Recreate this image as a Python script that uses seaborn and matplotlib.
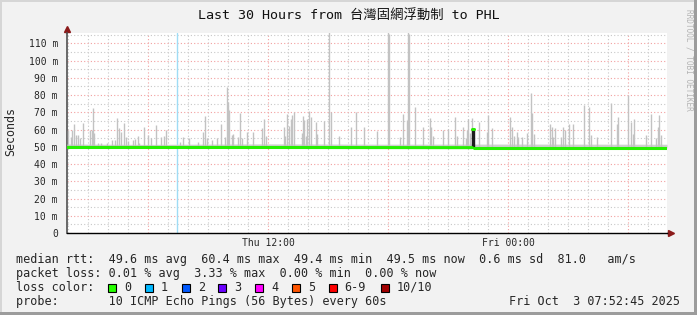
import matplotlib
matplotlib.use("Agg")
import matplotlib.pyplot as plt
import seaborn as sns
import pandas as pd
from matplotlib.patches import Rectangle

# ---------------- data (time in hours since Thu 00:00) ----------------
t_start, t_end = 1.95, 31.95

spike_t = [2.02, 2.14, 2.22, 2.30, 2.39, 2.52, 2.60, 2.77, 3.12, 3.19, 3.27, 3.32,
           3.52, 3.65, 3.94, 4.19, 4.35, 4.47, 4.55, 4.65, 4.80, 4.89, 5.02, 5.27,
           5.35, 5.49, 5.55, 5.80, 5.99, 6.15, 6.39, 6.65, 6.80, 6.90,
           7.60, 7.77, 8.05, 8.50, 8.77, 8.85, 8.94, 9.19, 9.44, 9.64, 9.85, 9.97,
           10.02, 10.07, 10.19, 10.27, 10.49, 10.60, 10.72, 10.94, 11.27, 11.72,
           11.80, 11.90, 12.80, 12.85, 12.97, 13.05, 13.14, 13.19, 13.32, 13.69,
           13.74, 13.82, 13.90, 13.97, 14.07, 14.15, 14.39, 14.47, 14.80, 15.04,
           15.15, 15.55, 16.15, 16.40, 16.82, 17.44, 18.02, 18.07, 18.60, 18.77,
           18.97, 19.02, 19.07, 19.35, 19.77, 20.10, 20.15, 20.27, 20.77, 21.02,
           21.35, 21.47, 21.77, 21.89, 21.94, 22.02, 22.10, 22.19, 22.55, 22.97,
           23.02, 23.22, 24.10, 24.22, 24.30, 24.44, 24.52, 24.72, 24.94, 25.15,
           25.22, 25.30, 26.10, 26.19, 26.27, 26.35, 26.64, 26.74, 26.85, 27.05,
           27.24, 27.80, 28.07, 28.14, 28.47, 29.14, 29.44, 29.52, 30.02, 30.15,
           30.24, 30.32, 30.90, 31.15, 31.40, 31.49, 31.57, 31.64]
spike_top = [59.7, 55.8, 60.0, 63.0, 57.0, 57.0, 55.0, 63.6, 60.0, 60.0, 72.3, 58.0,
             52.0, 52.0, 52.0, 54.0, 54.0, 66.5, 61.0, 58.7, 63.6, 55.8, 53.5, 54.0,
             54.5, 56.0, 52.0, 61.3, 56.8, 54.9, 62.6, 55.4, 56.0, 59.7,
             53.0, 55.8, 55.2, 53.0, 58.7, 67.9, 55.0, 54.0, 54.9, 63.0, 55.8, 84.6,
             76.2, 71.4, 56.8, 57.4, 55.4, 69.4, 54.9, 58.7, 58.7, 60.7,
             65.9, 56.2, 61.7, 56.0, 69.0, 62.0, 65.9, 68.4, 70.4, 57.8,
             67.9, 65.5, 56.2, 65.9, 70.8, 67.0, 64.6, 57.4, 65.1, 117.0,
             70.4, 56.2, 61.7, 70.0, 61.3, 59.3, 117.0, 115.6, 55.8, 69.0,
             65.5, 117.0, 115.6, 72.9, 61.7, 66.5, 61.7, 56.0, 60.0, 60.3,
             67.0, 56.2, 61.7, 55.0, 59.7, 65.9, 58.0, 66.5, 64.6, 58.7,
             68.4, 60.7, 67.0, 61.3, 56.2, 58.7, 55.4, 55.8, 58.0, 81.0,
             69.4, 57.4, 63.2, 61.3, 55.8, 60.7, 55.8, 61.7, 59.7, 63.2,
             63.2, 74.3, 72.9, 56.8, 55.8, 75.6, 63.2, 67.0, 80.1, 64.6,
             57.4, 65.9, 56.8, 69.0, 55.0, 61.7, 68.4, 56.8]

dense_t = [22.22, 22.25, 22.28]
dense_top = [60.4, 60.4, 60.4]

base_t = [1.95, 6.0, 12.0, 18.0, 24.0, 31.95]
base_lo = [49.4, 49.4, 49.4, 49.4, 49.4, 49.4]
base_hi = [51.6, 51.4, 51.7, 51.5, 51.6, 51.5]

loss_t = [7.43]

median_t = [1.95, 12.0, 22.22, 22.22, 22.30, 22.30, 31.95]
median_v = [49.6, 49.6, 49.5, 60.4, 60.4, 49.5, 49.5]
median_seg = [0, 0, 0, 1, 1, 2, 2]

y_ticks = [0, 10, 20, 30, 40, 50, 60, 70, 80, 90, 100, 110]
y_labels = ["0", "10 m", "20 m", "30 m", "40 m", "50 m", "60 m", "70 m",
            "80 m", "90 m", "100 m", "110 m"]
x_major = [6, 12, 18, 24, 30]
x_labels = ["", "Thu 12:00", "", "Fri 00:00", ""]

title = "Last 30 Hours from 台灣固網浮動制 to PHL"
legend_lines = [
    "median rtt:  49.6 ms avg  60.4 ms max  49.4 ms min  49.5 ms now  0.6 ms sd  81.0   am/s",
    "packet loss: 0.01 % avg  3.33 % max  0.00 % min  0.00 % now",
    "loss color:",
    "probe:       10 ICMP Echo Pings (56 Bytes) every 60s",
]
stamp = "Fri Oct  3 07:52:45 2025"
loss_labels = ["0", "1", "2", "3", "4", "5", "6-9", "10/10"]
loss_colors = ["#26ff00", "#00b8ff", "#0059ff", "#6a00ff", "#ff00ff",
               "#ff5500", "#ff0000", "#a10000"]

# ---------------- drawing ----------------
sns.set_theme(style="white")
plt.rcParams["font.family"] = ["DejaVu Sans Mono", "Noto Sans CJK TC"]

W, H = 697, 315
fig = plt.figure(figsize=(W / 100, H / 100), dpi=100)
fig.patch.set_facecolor("#f2f2f2")

ax = fig.add_axes([67 / W, (H - 233) / H, 600 / W, 200 / H])
ax.set_facecolor("white")
ax.set_xlim(t_start, t_end)
ax.set_ylim(0, 116)

# grid
ax.set_axisbelow(True)
ax.set_xticks(x_major)
ax.set_xticklabels(x_labels)
ax.set_xticks([h for h in range(2, 32)], minor=True)
ax.set_yticks(y_ticks)
ax.set_yticklabels(y_labels)
ax.set_yticks([v + 5 for v in y_ticks], minor=True)
ax.grid(which="major", color="#f2a0a0", lw=0.8, ls=(0, (1, 2)))
ax.grid(which="minor", color="#c8c8c8", lw=0.8, ls=(0, (1, 2)))
ax.tick_params(which="both", length=0)
ax.tick_params(axis="y", pad=6.5, labelsize=7)
ax.tick_params(axis="x", pad=3.5, labelsize=7)

# loss marker
for t in loss_t:
    ax.axvline(t, color="#9fdcf5", lw=1.0, zorder=2)

# smoke
ax.fill_between(base_t, base_lo, base_hi, color="#d0d0d0", lw=0, zorder=3)
ax.vlines(spike_t, 49.5, spike_top, colors="#c2c2c2", lw=1.0, zorder=3)
ax.vlines(dense_t, 49.5, dense_top, colors="#1e1e1e", lw=1.0, zorder=4)

# median line
med = pd.DataFrame({"t": median_t, "v": median_v, "seg": median_seg})
sns.lineplot(data=med, x="t", y="v", units="seg", estimator=None,
             color="#26f000", lw=2.2, ax=ax, zorder=5, legend=False)
ax.set_xlabel("")
ax.set_ylabel("")

# spines & arrows
for s in ["top", "right"]:
    ax.spines[s].set_visible(False)
ax.spines["left"].set_color("#505050")
ax.spines["left"].set_linewidth(1.2)
ax.spines["bottom"].set_color("black")
ax.spines["bottom"].set_linewidth(1.0)
ax.plot([0, 0], [1.0, 1.02], transform=ax.transAxes, color="#505050", lw=1.2, clip_on=False)
ax.plot([0], [1.022], marker="^", ms=5, color="#8b1a1a", transform=ax.transAxes, clip_on=False)
ax.plot([1.0, 1.004], [0, 0], transform=ax.transAxes, color="black", lw=1.0, clip_on=False)
ax.plot([1.007], [0], marker=">", ms=5, color="#8b1a1a", transform=ax.transAxes, clip_on=False)

# texts
def fy(y):
    return 1 - y / H

fig.text(0.5, fy(15), title, ha="center", va="center", fontsize=9.6, color="#111111")
fig.text(11 / W, fy(131), "Seconds", rotation=90, ha="center", va="center", fontsize=8.4)
fig.text(689 / W, fy(60), "RRDTOOL / TOBI OETIKER", rotation=270, ha="center",
         va="center", fontsize=5.6, color="#b4b4b4")

line_y = [259.5, 273.5, 287.5, 301.5]
for txt, y in zip(legend_lines, line_y):
    fig.text(16 / W, fy(y), txt, ha="left", va="center", fontsize=8.5)
fig.text(680 / W, fy(line_y[3]), stamp, ha="right", va="center", fontsize=8.5)

sq_x = [108.3, 145.0, 181.7, 218.4, 255.1, 291.8, 328.5, 380.5]
for x, lab, c in zip(sq_x, loss_labels, loss_colors):
    fig.patches.append(Rectangle((x / W, fy(291.5)), 8 / W, 8 / H, transform=fig.transFigure,
                                 facecolor=c, edgecolor="black", lw=0.8))
    fig.text((x + 16) / W, fy(line_y[2]), lab, ha="left", va="center", fontsize=8.5)

# frame
fig.patches.append(Rectangle((0, 0), 2 / W, 1, transform=fig.transFigure, facecolor="#d6d6d6", lw=0))
fig.patches.append(Rectangle((0, 1 - 2 / H), 1, 2 / H, transform=fig.transFigure, facecolor="#d6d6d6", lw=0))
fig.patches.append(Rectangle((1 - 3 / W, 0), 3 / W, 1, transform=fig.transFigure, facecolor="#9c9c9c", lw=0))
fig.patches.append(Rectangle((0, 0), 1, 3 / H, transform=fig.transFigure, facecolor="#9c9c9c", lw=0))

fig.savefig("out.png", dpi=100, facecolor=fig.get_facecolor())
